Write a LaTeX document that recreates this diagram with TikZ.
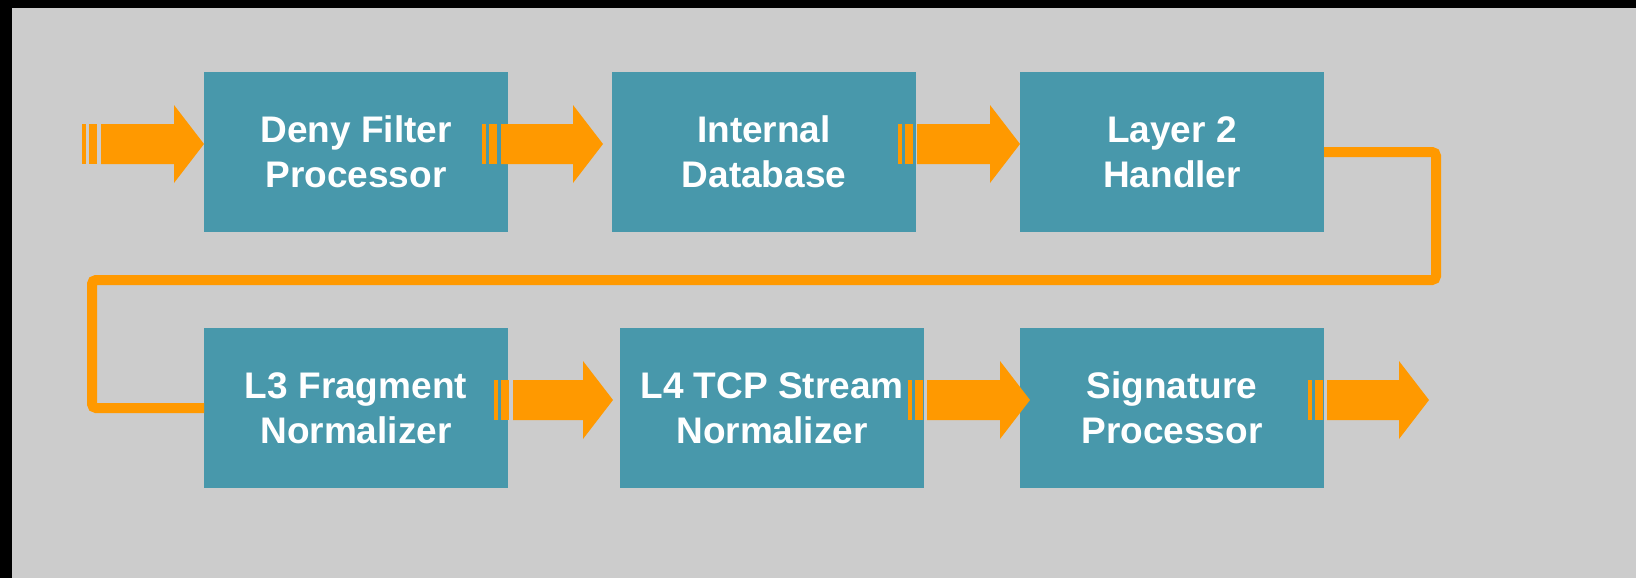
\documentclass[tikz,border=0pt]{standalone}
\usepackage{fontspec}
\setmainfont{Liberation Sans}
\usepackage{xcolor}
\usetikzlibrary{positioning,calc}
\definecolor{stageteal}{RGB}{72,152,171}
\definecolor{flowgold}{RGB}{255,153,0}
\definecolor{slidegray}{RGB}{204,204,204}
% striped fat arrow: #1 start of stripes, #2 tip
\newcommand{\flowarrow}[2]{%
  \coordinate (fs) at #1;
  \coordinate (ft) at #2;
  \fill[flow] ($(fs)+(0,-20)$) rectangle ($(fs)+(4,20)$);
  \fill[flow] ($(fs)+(7,-20)$) rectangle ($(fs)+(15,20)$);
  \fill[flow] ($(fs)+(19,-20)$) -- ($(ft)+(-30,-20)$) -- ($(ft)+(-30,-39)$) -- (ft)
    -- ($(ft)+(-30,39)$) -- ($(ft)+(-30,20)$) -- ($(fs)+(19,20)$) -- cycle;
}

\begin{document}
\begin{tikzpicture}[
    x=1pt,y=-1pt,
    stage/.style={rectangle,fill=stageteal,text=white,inner sep=0pt,outer sep=0pt,
      minimum width=304pt,minimum height=160pt,align=center,
      font=\bfseries\fontsize{37}{45}\selectfont},
    flow/.style={fill=flowgold},
    pipe/.style={draw=flowgold,line width=10pt,rounded corners=4pt}
  ]
    \useasboundingbox (0,0) rectangle (1636,578);
    \fill[black] (0,0) rectangle (1636,578);
    \fill[slidegray] (12,8) rectangle (1636,578);

    \node[stage] (deny) at (356,152) {Deny Filter\\Processor};
    \node[stage,right=104pt of deny] (internal) {Internal\\Database};
    \node[stage,right=104pt of internal] (layer2) {Layer 2\\Handler};
    \node[stage,below=96pt of deny] (l3frag) {L3 Fragment\\Normalizer};
    \node[stage,right=112pt of l3frag] (l4tcp) {L4 TCP Stream\\Normalizer};
    \node[stage,right=96pt of l4tcp] (sigproc) {Signature\\Processor};

    % wrap-around from the first row to the second
    \coordinate (bend) at ($(layer2.east)+(112,128)$);
    \draw[pipe] (layer2.east) -| (bend) -| ($(l3frag.west)+(-112,0)$) -- (l3frag.west);

    \flowarrow{($(deny.west)+(-122,-8)$)}{($(deny.west)+(0,-8)$)}
    \flowarrow{($(deny.east)+(-26,-8)$)}{($(internal.west)+(-9,-8)$)}
    \flowarrow{($(internal.east)+(-18,-8)$)}{($(layer2.west)+(0,-8)$)}
    \flowarrow{($(l3frag.east)+(-14,-8)$)}{($(l4tcp.west)+(-7,-8)$)}
    \flowarrow{($(l4tcp.east)+(-16,-8)$)}{($(sigproc.west)+(10,-8)$)}
    \flowarrow{($(sigproc.east)+(-16,-8)$)}{($(sigproc.east)+(105,-8)$)}
  \end{tikzpicture}
\end{document}
